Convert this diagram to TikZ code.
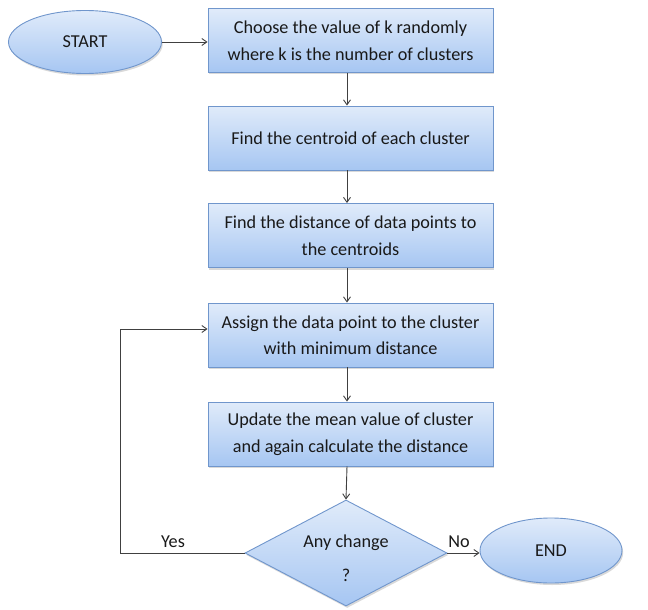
\documentclass[tikz,border=0pt]{standalone}
\usepackage{fontspec}
\setmainfont{Carlito}
\usetikzlibrary{shapes.geometric,arrows.meta,shadows}
\definecolor{fillTop}{HTML}{E0EBFA}
\definecolor{fillBot}{HTML}{A6C6F2}
\definecolor{edgeBlue}{HTML}{7096CC}
\definecolor{lineGray}{HTML}{404040}
\begin{document}
\begin{tikzpicture}[x=1pt,y=1pt,
  shade base/.style={draw=edgeBlue, line width=0.9pt, top color=fillTop, bottom color=fillBot,
    font=\fontsize{18.2}{26.5}\selectfont, text=black!90, align=center,
    drop shadow={shadow xshift=1.2pt, shadow yshift=-2pt, opacity=0.25, fill=black!60}},
  procbox/.style={shade base, rectangle, minimum width=285pt, minimum height=64pt, inner sep=0pt},
  termnode/.style={shade base, ellipse, inner sep=0pt},
  decision/.style={shade base, diamond, shape aspect=2, minimum width=202pt, minimum height=106pt, inner sep=0pt},
  flow/.style={draw=lineGray, line width=0.9pt, -{Straight Barb[length=5pt,width=7pt]}},
  lbl/.style={font=\fontsize{18.2}{20}\selectfont, text=black!90}]
\useasboundingbox (0,0) rectangle (648,-610);

\node[termnode, minimum width=153pt, minimum height=63pt] (start) at (85,-42) {START};
\node[procbox] (b1) at (350.5,-40.5) {Choose the value of k randomly\\where k is the number of clusters};
\node[procbox] (b2) at (350.5,-138) {Find the centroid of each cluster};
\node[procbox] (b3) at (350.5,-235.5) {Find the distance of data points to\\the centroids};
\node[procbox] (b4) at (350.5,-335) {Assign the data point to the cluster\\with minimum distance};
\node[procbox] (b5) at (350.5,-434) {Update the mean value of cluster\\and again calculate the distance};
\node[decision] (dec) at (346,-553) {};
\node[font=\fontsize{18.2}{34}\selectfont, text=black!90, align=center] (dectext) at (346,-558) {Any change\\?};
\node[termnode, minimum width=142pt, minimum height=65pt] (end) at (551,-550.5) {END};

\coordinate (loopL) at (120,-553);
\coordinate (loopT) at (120,-329);

\draw[flow] (start.east) -- (b1.west |- start.east);
\draw[flow] (b1.south -| 347,0) -- (b2.north -| 347,0);
\draw[flow] (b2.south -| 347,0) -- (b3.north -| 347,0);
\draw[flow] (b3.south -| 347,0) -- (b4.north -| 347,0);
\draw[flow] (b4.south -| 347,0) -- (b5.north -| 347,0);
\draw[flow] (b5.south -| 347,0) -- (dec.north);
\draw[flow] (dec.west) -- (loopL) -- (loopT) -- (b4.west |- loopT);
\draw[flow] (dec.east) -- (end.west |- dec.east);

\node[lbl] (yes) at (173,-542) {Yes};
\node[lbl] (no) at (459,-542) {No};
\end{tikzpicture}
\end{document}
